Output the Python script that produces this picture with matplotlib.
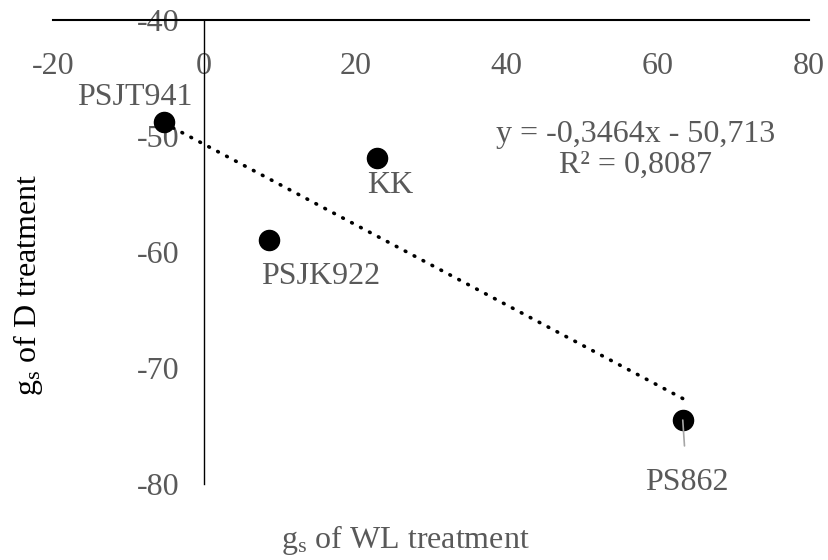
import matplotlib
matplotlib.use("Agg")
import matplotlib.pyplot as plt
import numpy as np

plt.rcParams['font.family'] = ['Liberation Serif', 'DejaVu Serif']
plt.rcParams['mathtext.fontset'] = 'custom'
plt.rcParams['mathtext.rm'] = 'Liberation Serif'
plt.rcParams['mathtext.it'] = 'Liberation Serif:italic'
plt.rcParams['axes.unicode_minus'] = False

names = ['PSJT941', 'KK', 'PSJK922', 'PS862']
wl = [-5.3, 22.8, 8.6, 63.3]
d = [-48.8, -51.9, -59.0, -74.5]
slope, intercept, r2 = -0.3464, -50.713, 0.8087
xticks = [-20, 0, 20, 40, 60, 80]
yticks = [-40, -50, -60, -70, -80]
# label offsets in points
offsets = {'PSJT941': (-21, 18), 'KK': (10, -20), 'PSJK922': (37, -26), 'PS862': (3, -45)}

gray = '#595959'
fs = 23
fig = plt.figure(figsize=(8.29, 5.6), dpi=100)
ax = fig.add_axes([0.0639, 0.136, 0.912, 0.828])
ax.set_xlim(-20, 80)
ax.set_ylim(-80, -40)

ax.spines['right'].set_visible(False)
ax.spines['bottom'].set_visible(False)
ax.spines['top'].set_linewidth(1.5)
ax.spines['left'].set_position(('data', 0))
ax.spines['left'].set_linewidth(1.0)

ax.xaxis.tick_top()
ax.set_xticks(xticks)
ax.set_yticks(yticks)
ax.tick_params(axis='x', length=0, pad=-44, labelsize=fs, labelcolor=gray)
ax.tick_params(axis='y', length=0, pad=18, labelsize=fs, labelcolor=gray)

xs = np.array([min(wl), max(wl)])
ax.plot(xs, slope * xs + intercept, color='black', lw=2.6,
        dashes=(0.2, 2.6), dash_capstyle='round', zorder=2)
ax.scatter(wl, d, s=210, color='black', zorder=3)

for n, x, y in zip(names, wl, d):
    dx, dy = offsets[n]
    if n == 'PS862':
        ax.annotate(n, (x, y), xytext=(dx, dy), textcoords='offset points',
                    ha='center', va='center', fontsize=fs, color=gray,
                    arrowprops=dict(arrowstyle='-', color='#a6a6a6', lw=1.2,
                                    shrinkA=14, shrinkB=0), zorder=4)
    else:
        ax.annotate(n, (x, y), xytext=(dx, dy), textcoords='offset points',
                    ha='center', va='center', fontsize=fs, color=gray)

ax.text(0.771, 0.72, 'y = -0,3464x - 50,713\nR² = 0,8087',
        transform=ax.transAxes, ha='center', va='center', fontsize=fs,
        color=gray, linespacing=1.05, multialignment='center')

fig.text(405 / 829, 1 - 540 / 560, r'g$_\mathregular{s}$ of WL treatment',
         ha='center', va='center', fontsize=fs, color=gray)
fig.text(28 / 829, 1 - 285 / 560, r'g$_\mathregular{s}$ of D treatment',
         ha='center', va='center', fontsize=fs, color='black', rotation=90)

fig.savefig('out.png', dpi=100)
